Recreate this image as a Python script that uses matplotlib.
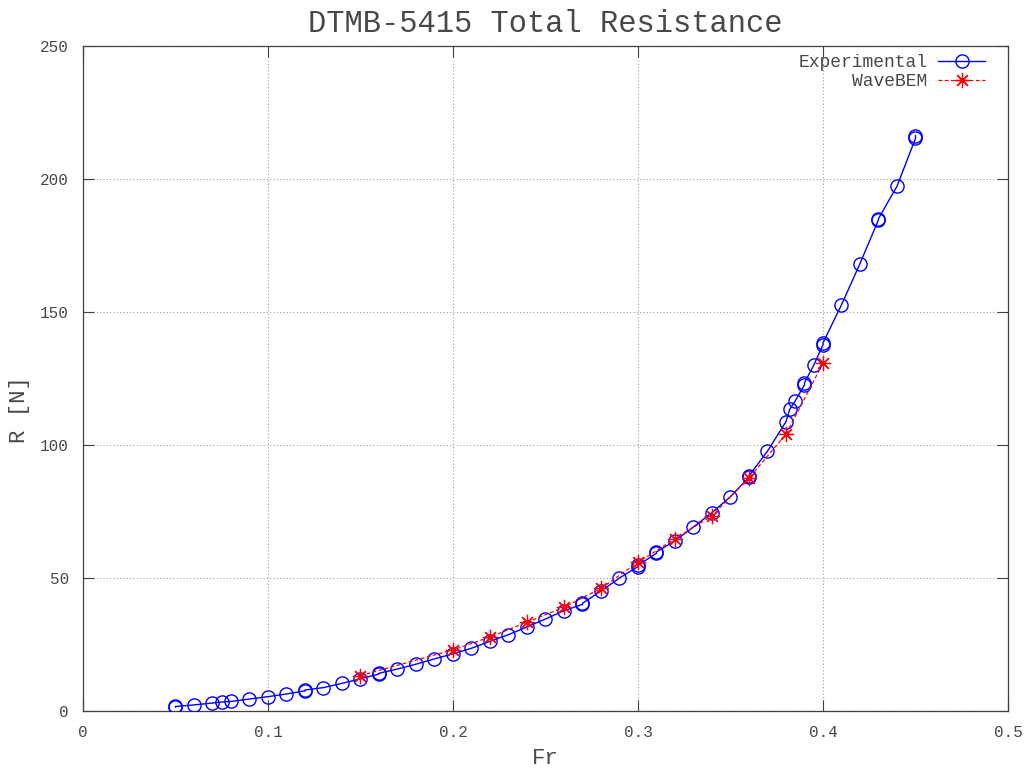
import matplotlib.pyplot as plt

plt.rcParams['font.family'] = ['Liberation Mono', 'DejaVu Sans Mono']

# Towing tank measurements (some speeds were repeated)
fr_exp = [0.05, 0.05, 0.06, 0.07, 0.075, 0.08, 0.09, 0.10, 0.11, 0.12, 0.12,
          0.13, 0.14, 0.15, 0.16, 0.16, 0.17, 0.18, 0.19, 0.20, 0.21, 0.22,
          0.23, 0.24, 0.25, 0.26, 0.27, 0.27, 0.28, 0.29, 0.30, 0.30, 0.31,
          0.31, 0.32, 0.33, 0.34, 0.35, 0.36, 0.36, 0.37, 0.38, 0.382, 0.385,
          0.39, 0.39, 0.395, 0.40, 0.40, 0.41, 0.42, 0.43, 0.43, 0.44, 0.45,
          0.45]
r_exp = [1.5, 1.7, 2.3, 3.0, 3.4, 3.6, 4.5, 5.4, 6.4, 7.6, 7.9,
         8.8, 10.4, 12.1, 13.9, 14.2, 15.8, 17.6, 19.6, 21.5, 23.6, 26.2,
         28.7, 31.6, 34.6, 37.7, 40.1, 40.5, 45.1, 50.0, 54.3, 54.8, 59.3,
         59.8, 64.0, 69.2, 74.6, 80.6, 87.9, 88.4, 97.7, 108.8, 113.4, 116.6,
         122.6, 123.4, 130.0, 137.7, 138.4, 152.7, 168.2, 184.7, 185.1, 197.3, 215.3,
         216.3]

# WaveBEM predictions
fr_bem = [0.15, 0.20, 0.22, 0.24, 0.26, 0.28, 0.30, 0.32, 0.34, 0.36, 0.38, 0.40]
r_bem = [13.3, 23.0, 27.8, 33.4, 39.0, 46.1, 55.9, 64.7, 73.4, 87.6, 104.1, 130.8]

text_col = '#484848'

fig = plt.figure(figsize=(10.27, 7.72), dpi=100)
ax = fig.add_axes([0.0808, 0.079, 0.9007, 0.8614])

ax.plot(fr_exp, r_exp, color='#0000ff', lw=1.0, marker='o', ms=9.5,
        mfc='none', mec='#0000ff', mew=1.0, label='Experimental', zorder=3)
ax.plot(fr_bem, r_bem, color='#ff0000', lw=0.9, ls=(0, (3, 2)),
        marker=(8, 2, 0), ms=11, mec='#ff0000', mew=0.9,
        label='WaveBEM', zorder=4)

ax.set_xlim(0, 0.5)
ax.set_ylim(0, 250)
ax.set_xticks([0, 0.1, 0.2, 0.3, 0.4, 0.5])
ax.set_xticklabels(['0', '0.1', '0.2', '0.3', '0.4', '0.5'])
ax.set_yticks([0, 50, 100, 150, 200, 250])

ax.grid(True, color='#a0a0a0', ls=(0, (1, 2)), lw=0.8)
ax.tick_params(direction='in', top=True, right=True, length=8, width=0.8,
               labelsize=11.5, labelcolor=text_col, colors='#404040', pad=10)
for s in ax.spines.values():
    s.set_color('#404040')
    s.set_linewidth(0.9)

ax.set_title('DTMB-5415 Total Resistance', fontsize=22, color=text_col, pad=10)
ax.set_xlabel('Fr', fontsize=16, color=text_col, labelpad=6)
ax.set_ylabel('R [N]', fontsize=16, color=text_col)
ax.yaxis.set_label_coords(-0.057, 0.453)

leg = ax.legend(loc='upper right', frameon=False, markerfirst=False,
                fontsize=13, handlelength=2.6, borderaxespad=0.05,
                labelspacing=0.1, handletextpad=0.6,
                bbox_to_anchor=(0.984, 1.0))
for t in leg.get_texts():
    t.set_color(text_col)
    t.set_ha('right')

fig.savefig('out.png', dpi=100)
